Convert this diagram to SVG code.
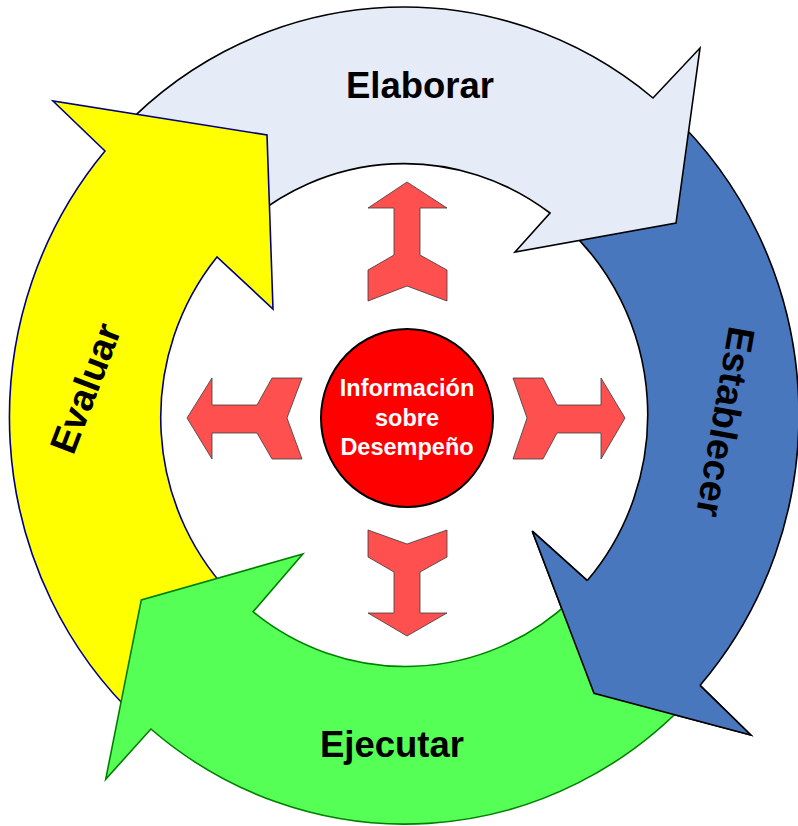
<svg xmlns="http://www.w3.org/2000/svg" width="798" height="826" viewBox="0 0 798 826">
<style>
.lbl{font-family:"Liberation Sans",Arial,sans-serif;font-weight:bold;font-size:36.5px;fill:#000;text-anchor:middle}
.ctr{font-family:"Liberation Sans",Arial,sans-serif;font-weight:bold;font-size:23.5px;fill:#fff;text-anchor:middle}
.ra{fill:#FF5050;stroke:#3a3a3a;stroke-width:0.8;stroke-linejoin:miter}
.blue{fill:#4877BE}
.bk{stroke:#000;stroke-width:1.6;fill:none}
</style>
<rect width="798" height="826" fill="#fff"/>

<g id="establecer">
<path class="blue" d="M669,112 A396 409 0 0 1 700,685.4 L750.7,735 L594,693.3 L532.3,531.2 L587.3,580.6 A245 252 0 0 0 564.7,225.8 Z" stroke="#000" stroke-width="1.6"/>
<text class="lbl" style="font-size:38px" transform="translate(726,422) rotate(100)" y="13.6">Establecer</text>
</g>

<g id="elaborar">
<path d="M109.7,142.3 A396 409 0 0 1 653,98 L700,48 L676,223 L515,252 L550,213 A245 252 0 0 0 240,228.7 Z" fill="#E6ECF7" stroke="#000" stroke-width="1.6"/>
<text class="lbl" x="420" y="98">Elaborar</text>
</g>

<g id="evaluar">
<path d="M139,720 A396 409 0 0 1 105,151 L53,101 L267,135 L273,309 L217,257 A245 252 0 0 0 236.9,600.3 Z" fill="#FFFF00" stroke="#000080" stroke-width="1.6"/>
<text class="lbl" style="font-size:37.5px" transform="translate(85,388) rotate(-69)" y="13.4">Evaluar</text>
</g>

<g id="ejecutar">
<path d="M693.6,695 A396 409 0 0 1 150.9,729 L105.7,779.3 L141.3,600 L302.8,554 L253.1,611.7 A245 252 0 0 0 571.1,600.3 Z" fill="#55FF55" stroke="#008000" stroke-width="1.6"/>
<text class="lbl" x="392" y="757">Ejecutar</text>
</g>

<g id="establecer-head">
<path class="blue" d="M587.3,580.6 L532.3,531.2 L594,693.3 L750.7,735 L700,685.4 Z"/>
<path class="bk" d="M587.3,580.6 L532.3,531.2 L594,693.3 L750.7,735 L700,685.4"/>
</g>

<g id="connectors">
<polygon id="arrow-up" class="ra" points="407,182 447,208 420,208 420,255 447,270 447,301 407,286 368,301 368,270 394,255 394,208 368,208"/>
<polygon id="arrow-right" class="ra" points="625,418 601,459 601,433 557,433 543,459 513,459 527,418 513,378 543,378 557,405 601,405 601,378"/>
<polygon id="arrow-left" class="ra" points="187,418 212,378 212,405 257,405 272,378 302,378 287,418 302,459 272,459 257,433 212,433 212,459"/>
<polygon id="arrow-down" class="ra" points="368,530 407,544 447,530 447,557 420,572 420,613 447,613 407,636 368,613 394,613 394,572 368,557"/>
</g>

<g id="informacion">
<ellipse cx="407" cy="418" rx="86" ry="89" fill="#FF0000" stroke="#000" stroke-width="2"/>
<text class="ctr" x="407" y="396">Información</text>
<text class="ctr" x="407" y="426">sobre</text>
<text class="ctr" x="407" y="455">Desempeño</text>
</g>
</svg>
